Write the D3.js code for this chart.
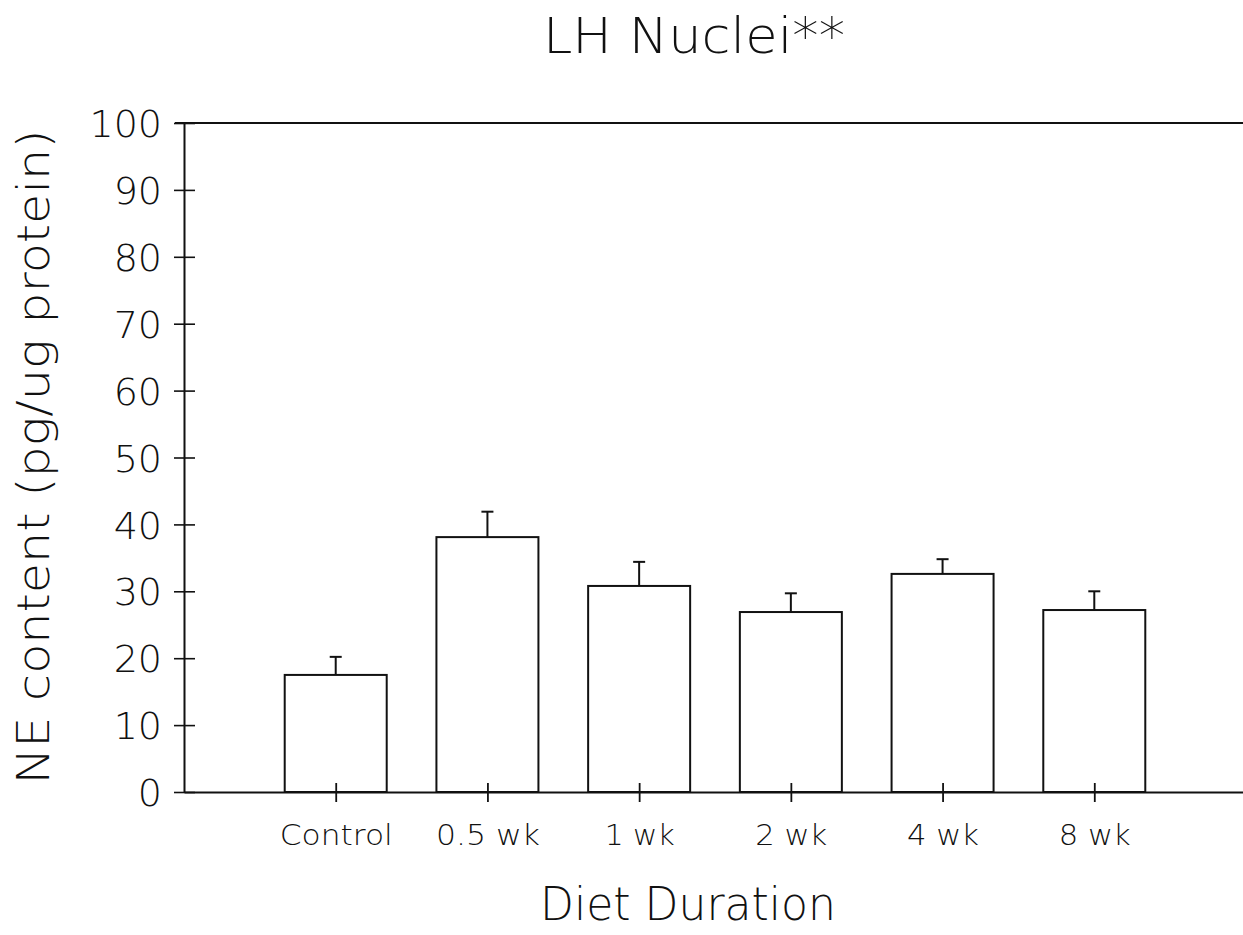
<!DOCTYPE html>
<html>
<head>
<meta charset="utf-8">
<script src="https://cdn.jsdelivr.net/npm/d3@7/dist/d3.min.js"></script>
<style>
  html, body { margin: 0; padding: 0; background: #fff; }
  svg { display: block; }
  text { font-family: "DejaVu Sans", sans-serif; font-weight: 200; fill: #111; }
</style>
</head>
<body>
<svg id="chart" width="1243" height="935"></svg>
<script>
// NE content in LH nuclei by diet duration (mean and mean + SEM)
const categories = ["Control", "0.5 wk", "1 wk", "2 wk", "4 wk", "8 wk"];
const means      = [17.5, 38.1, 30.8, 26.9, 32.6, 27.2];
const upperErr   = [20.2, 41.9, 34.4, 29.7, 34.8, 30.0];
const yTicks     = [0, 10, 20, 30, 40, 50, 60, 70, 80, 90, 100];

const svg = d3.select("#chart");
const ink = "#111";

const x = d3.scaleLinear().domain([0, categories.length + 1]).range([184, 1246]);
const y = d3.scaleLinear().domain([0, 100]).range([792, 123]);
const barW = 102;

// Frame: top border and y axis
svg.append("line").attr("x1", 175).attr("x2", 1243)
  .attr("y1", y(100)).attr("y2", y(100))
  .attr("stroke", ink).attr("stroke-width", 2);

const yAxis = d3.axisLeft(y).tickValues(yTicks).tickSizeInner(10).tickSizeOuter(0).tickPadding(12);
const gy = svg.append("g").attr("transform", "translate(184,0)").call(yAxis);
gy.select(".domain").attr("stroke", ink).attr("stroke-width", 2);
gy.selectAll(".tick line").attr("x2", 11).attr("x1", -10).attr("stroke", ink).attr("stroke-width", 1.6);
gy.selectAll(".tick text")
  .attr("x", -22).attr("dy", "0.36em")
  .style("font-size", "38px").style("font-family", "DejaVu Sans").style("font-weight", 200)
  .attr("fill", ink);

// Bars
svg.append("g").selectAll("rect").data(means).join("rect")
  .attr("x", (d, i) => x(i + 1) - barW / 2)
  .attr("y", d => y(d))
  .attr("width", barW)
  .attr("height", d => y(0) - y(d))
  .attr("fill", "#fff").attr("stroke", ink).attr("stroke-width", 2);

// Error bars (upper only)
const eg = svg.append("g").attr("stroke", ink).attr("stroke-width", 2);
eg.selectAll("line.stem").data(upperErr).join("line").attr("class", "stem")
  .attr("x1", (d, i) => x(i + 1)).attr("x2", (d, i) => x(i + 1))
  .attr("y1", (d, i) => y(means[i])).attr("y2", d => y(d));
eg.selectAll("line.cap").data(upperErr).join("line").attr("class", "cap")
  .attr("x1", (d, i) => x(i + 1) - 6).attr("x2", (d, i) => x(i + 1) + 6)
  .attr("y1", d => y(d)).attr("y2", d => y(d));

// X axis with ticks crossing the baseline at each category
const xAxis = d3.axisBottom(x)
  .tickValues(d3.range(1, categories.length + 1))
  .tickFormat(i => categories[i - 1])
  .tickSizeInner(10).tickSizeOuter(0).tickPadding(20);
const gx = svg.append("g").attr("transform", `translate(0,${y(0)})`).call(xAxis);
gx.select(".domain").attr("stroke", ink).attr("stroke-width", 2);
gx.selectAll(".tick line").attr("y1", -9).attr("y2", 10).attr("stroke", ink).attr("stroke-width", 1.8);
gx.selectAll(".tick text")
  .attr("y", 53).attr("dy", 0)
  .style("font-size", "29px").style("font-family", "DejaVu Sans").style("font-weight", 200)
  .attr("fill", ink);
const labelWidths = { "Control": 113, "0.5 wk": 104, "1 wk": 70, "2 wk": 72, "4 wk": 72, "8 wk": 72 };
gx.selectAll(".tick text").attr("textLength", (i) => labelWidths[categories[i - 1]]).attr("lengthAdjust", "spacingAndGlyphs");

// Title
svg.append("text").attr("x", 694).attr("y", 53).attr("text-anchor", "middle")
  .style("font-size", "50px").attr("textLength", 302).attr("lengthAdjust", "spacingAndGlyphs")
  .text("LH Nuclei**");

// Axis titles
svg.append("text").attr("transform", "translate(49,457) rotate(-90)").attr("text-anchor", "middle")
  .style("font-size", "44px").attr("textLength", 655).attr("lengthAdjust", "spacingAndGlyphs")
  .text("NE content (pg/ug protein)");

svg.append("text").attr("x", 688).attr("y", 920).attr("text-anchor", "middle")
  .style("font-size", "46px").attr("textLength", 296).attr("lengthAdjust", "spacingAndGlyphs")
  .text("Diet Duration");
</script>
</body>
</html>
